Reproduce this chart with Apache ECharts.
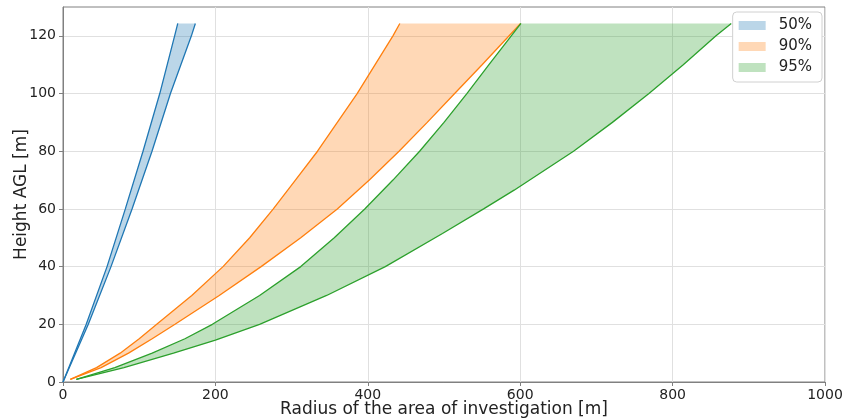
<!DOCTYPE html>
<html>
<head>
<meta charset="utf-8">
<script src="https://cdn.jsdelivr.net/npm/echarts@6/dist/echarts.min.js"></script>
<style>
html,body{margin:0;padding:0;background:#fff;}
#c{width:844px;height:420px;}
</style>
</head>
<body>
<div id="c"></div>
<script>
// ---- data (radius r [m] at height h [m]) ----
var xTicks = [0, 200, 400, 600, 800, 1000];
var yTicks = [0, 20, 40, 60, 80, 100, 120];

var h50 = [0, 20, 40, 60, 80, 100, 120, 124.3];
var r50Inner = [0, 30.5, 57.8, 81.8, 105, 127, 146.5, 150.6];
var r50Outer = [0, 33.2, 63, 90.6, 116.8, 141, 168.5, 173.7];

var h90Inner = [0.9, 5, 10, 15, 20, 30, 40, 50, 60, 70, 80, 100, 120, 124.3];
var r90Inner = [9.6, 44, 75, 100, 123, 169, 210, 245, 276, 305, 334, 386, 433, 442];
var h90Outer = [0.9, 5, 10, 15, 20, 30, 40, 50, 60, 70, 80, 90, 100, 110, 124.3];
var r90Outer = [9.6, 50, 86, 117, 147, 205, 260, 312, 360, 402, 441, 478, 514, 550, 600.5];

var h95Inner = [0.9, 5, 10, 15, 20, 30, 40, 50, 60, 70, 80, 90, 100, 110, 124.3];
var r95Inner = [17.5, 68, 117, 160, 196, 258, 312, 356, 396, 433, 468, 500, 530, 559, 601];
var h95Outer = [0.9, 5, 10, 14.5, 20, 30, 40, 51.5, 60, 66.5, 80, 90, 100, 110, 120, 124.3];
var r95Outer = [17.5, 80, 145, 200, 258, 346, 423, 498, 552, 592, 670, 721, 769, 814, 857, 877];

var names = ['50%', '90%', '95%'];
var lineColors = ['#1f77b4', '#ff7f0e', '#2ca02c'];
var fillColors = ['rgba(31,119,180,0.3)', 'rgba(255,127,14,0.3)', 'rgba(44,160,44,0.3)'];

function pairs(rs, hs) { return rs.map(function (r, i) { return [r, hs[i]]; }); }

var bands = [
  { inner: pairs(r50Inner, h50), outer: pairs(r50Outer, h50) },
  { inner: pairs(r90Inner, h90Inner), outer: pairs(r90Outer, h90Outer) },
  { inner: pairs(r95Inner, h95Inner), outer: pairs(r95Outer, h95Outer) }
];

var series = [];
bands.forEach(function (b, k) {
  var poly = b.inner.concat(b.outer.slice().reverse());
  series.push({
    name: names[k],
    type: 'custom',
    coordinateSystem: 'cartesian2d',
    itemStyle: { color: fillColors[k] },
    data: [0],
    z: 1 + k,
    silent: true,
    renderItem: function (params, api) {
      return {
        type: 'polygon',
        shape: { points: poly.map(function (p) { return api.coord(p); }) },
        style: { fill: fillColors[k], stroke: null }
      };
    }
  });
});
bands.forEach(function (b, k) {
  [b.inner, b.outer].forEach(function (d, j) {
    series.push({
      name: names[k] + (j ? ' outer' : ' inner'),
      type: 'line',
      data: d,
      showSymbol: false,
      symbol: 'none',
      z: 10 + k,
      silent: true,
      lineStyle: { color: lineColors[k], width: 1.3 },
      itemStyle: { color: lineColors[k] }
    });
  });
});

var textColor = '#222';
var spine = '#808080';
var chart = echarts.init(document.getElementById('c'), null, { renderer: 'canvas' });
chart.setOption({
  animation: false,
  backgroundColor: '#fff',
  textStyle: { fontFamily: 'DejaVu Sans' },
  grid: {
    left: 63, right: 19, top: 7, bottom: 38,
    show: true, borderColor: spine, borderWidth: 1, backgroundColor: 'transparent',
    containLabel: false, outerBoundsMode: 'none'
  },
  legend: {
    data: names,
    orient: 'vertical',
    right: 22, top: 12,
    backgroundColor: '#fff',
    borderColor: '#d0d0d0', borderWidth: 1, borderRadius: 4,
    padding: [6, 10, 7, 6],
    itemGap: 6,
    itemWidth: 27, itemHeight: 9,
    icon: 'rect',
    selectedMode: false,
    textStyle: { fontSize: 15, color: textColor, fontFamily: 'DejaVu Sans', padding: [0, 0, 0, 8] }
  },
  xAxis: {
    type: 'value', min: 0, max: 1000, interval: 200,
    name: 'Radius of the area of investigation [m]',
    nameLocation: 'middle', nameGap: 19, nameMoveOverlap: false,
    nameTextStyle: { fontSize: 17, color: textColor, fontFamily: 'DejaVu Sans' },
    axisLine: { show: true, lineStyle: { color: spine, width: 1 } },
    axisTick: { show: true, length: 4, lineStyle: { color: spine }, customValues: xTicks },
    axisLabel: { fontSize: 14, color: textColor, margin: 6, customValues: xTicks, fontFamily: 'DejaVu Sans',
      formatter: function (v) { return String(v); } },
    splitLine: { show: true, lineStyle: { color: '#e0e0e0', width: 1 } }
  },
  yAxis: {
    type: 'value', min: 0, max: 130, interval: 20,
    name: 'Height AGL [m]',
    nameLocation: 'middle', nameGap: 33, nameRotate: 90, nameMoveOverlap: false,
    nameTextStyle: { fontSize: 17, color: textColor, fontFamily: 'DejaVu Sans' },
    axisLine: { show: true, lineStyle: { color: spine, width: 1 } },
    axisTick: { show: true, length: 4, lineStyle: { color: spine }, customValues: yTicks },
    axisLabel: { fontSize: 14, color: textColor, margin: 7, customValues: yTicks, fontFamily: 'DejaVu Sans',
      formatter: function (v) { return String(v); } },
    splitLine: { show: true, lineStyle: { color: '#e0e0e0', width: 1 } }
  },
  series: series
});
</script>
</body>
</html>
